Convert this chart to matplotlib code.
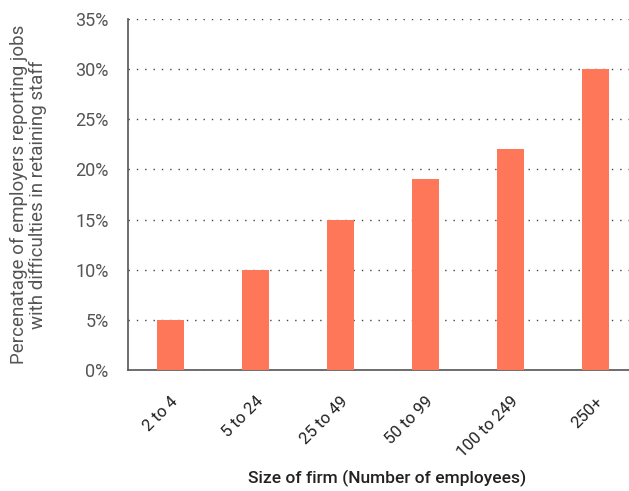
import matplotlib
matplotlib.use("Agg")
from matplotlib import pyplot as plt
from matplotlib.ticker import FuncFormatter

categories = ['2 to 4', '5 to 24', '25 to 49', '50 to 99', '100 to 249', '250+']
values = [5, 10, 15, 19, 22, 30]

fig = plt.figure(figsize=(6.29, 4.91), dpi=100)
ax = fig.add_axes([0.2035, 0.2464, 0.811, 0.7149])

x = list(range(len(categories)))
ax.bar(x, values, width=0.32, color='#ff7759', zorder=3)

ax.set_ylim(0, 35)
ax.set_xlim(-0.5, 5.5)
ax.set_yticks(range(0, 36, 5))
ax.yaxis.set_major_formatter(FuncFormatter(lambda v, p: f'{int(v)}%'))
ax.grid(axis='y', color='#444444', linestyle=(0, (1, 5)), linewidth=1, zorder=0)
ax.grid(axis='x', visible=False)

ax.set_xticks(x)
ax.set_xticklabels(categories, rotation=45, ha='right', rotation_mode='anchor',
                   fontsize=12, color='#222222', family='Roboto')
for lab in ax.get_yticklabels():
    lab.set_fontsize(13)
    lab.set_color('#555555')
    lab.set_family('Roboto')
ax.tick_params(axis='both', length=0)
ax.tick_params(axis='x', pad=17)
ax.tick_params(axis='y', pad=14)

for s in ['top', 'right']:
    ax.spines[s].set_visible(False)
for s in ['left', 'bottom']:
    ax.spines[s].set_color('#555555')
    ax.spines[s].set_linewidth(1.2)

ax.set_ylabel('Percenatage of employers reporting jobs\nwith difficulties in retaining staff',
              fontsize=13.5, color='#555555', family='Roboto', labelpad=20,
              linespacing=1.1)
fig.text(0.615, 0.008, 'Size of firm (Number of employees)', ha='center', va='bottom',
         fontsize=12.5, color='#222222', family='Roboto', fontweight='medium')

fig.savefig('out.png', dpi=100)
